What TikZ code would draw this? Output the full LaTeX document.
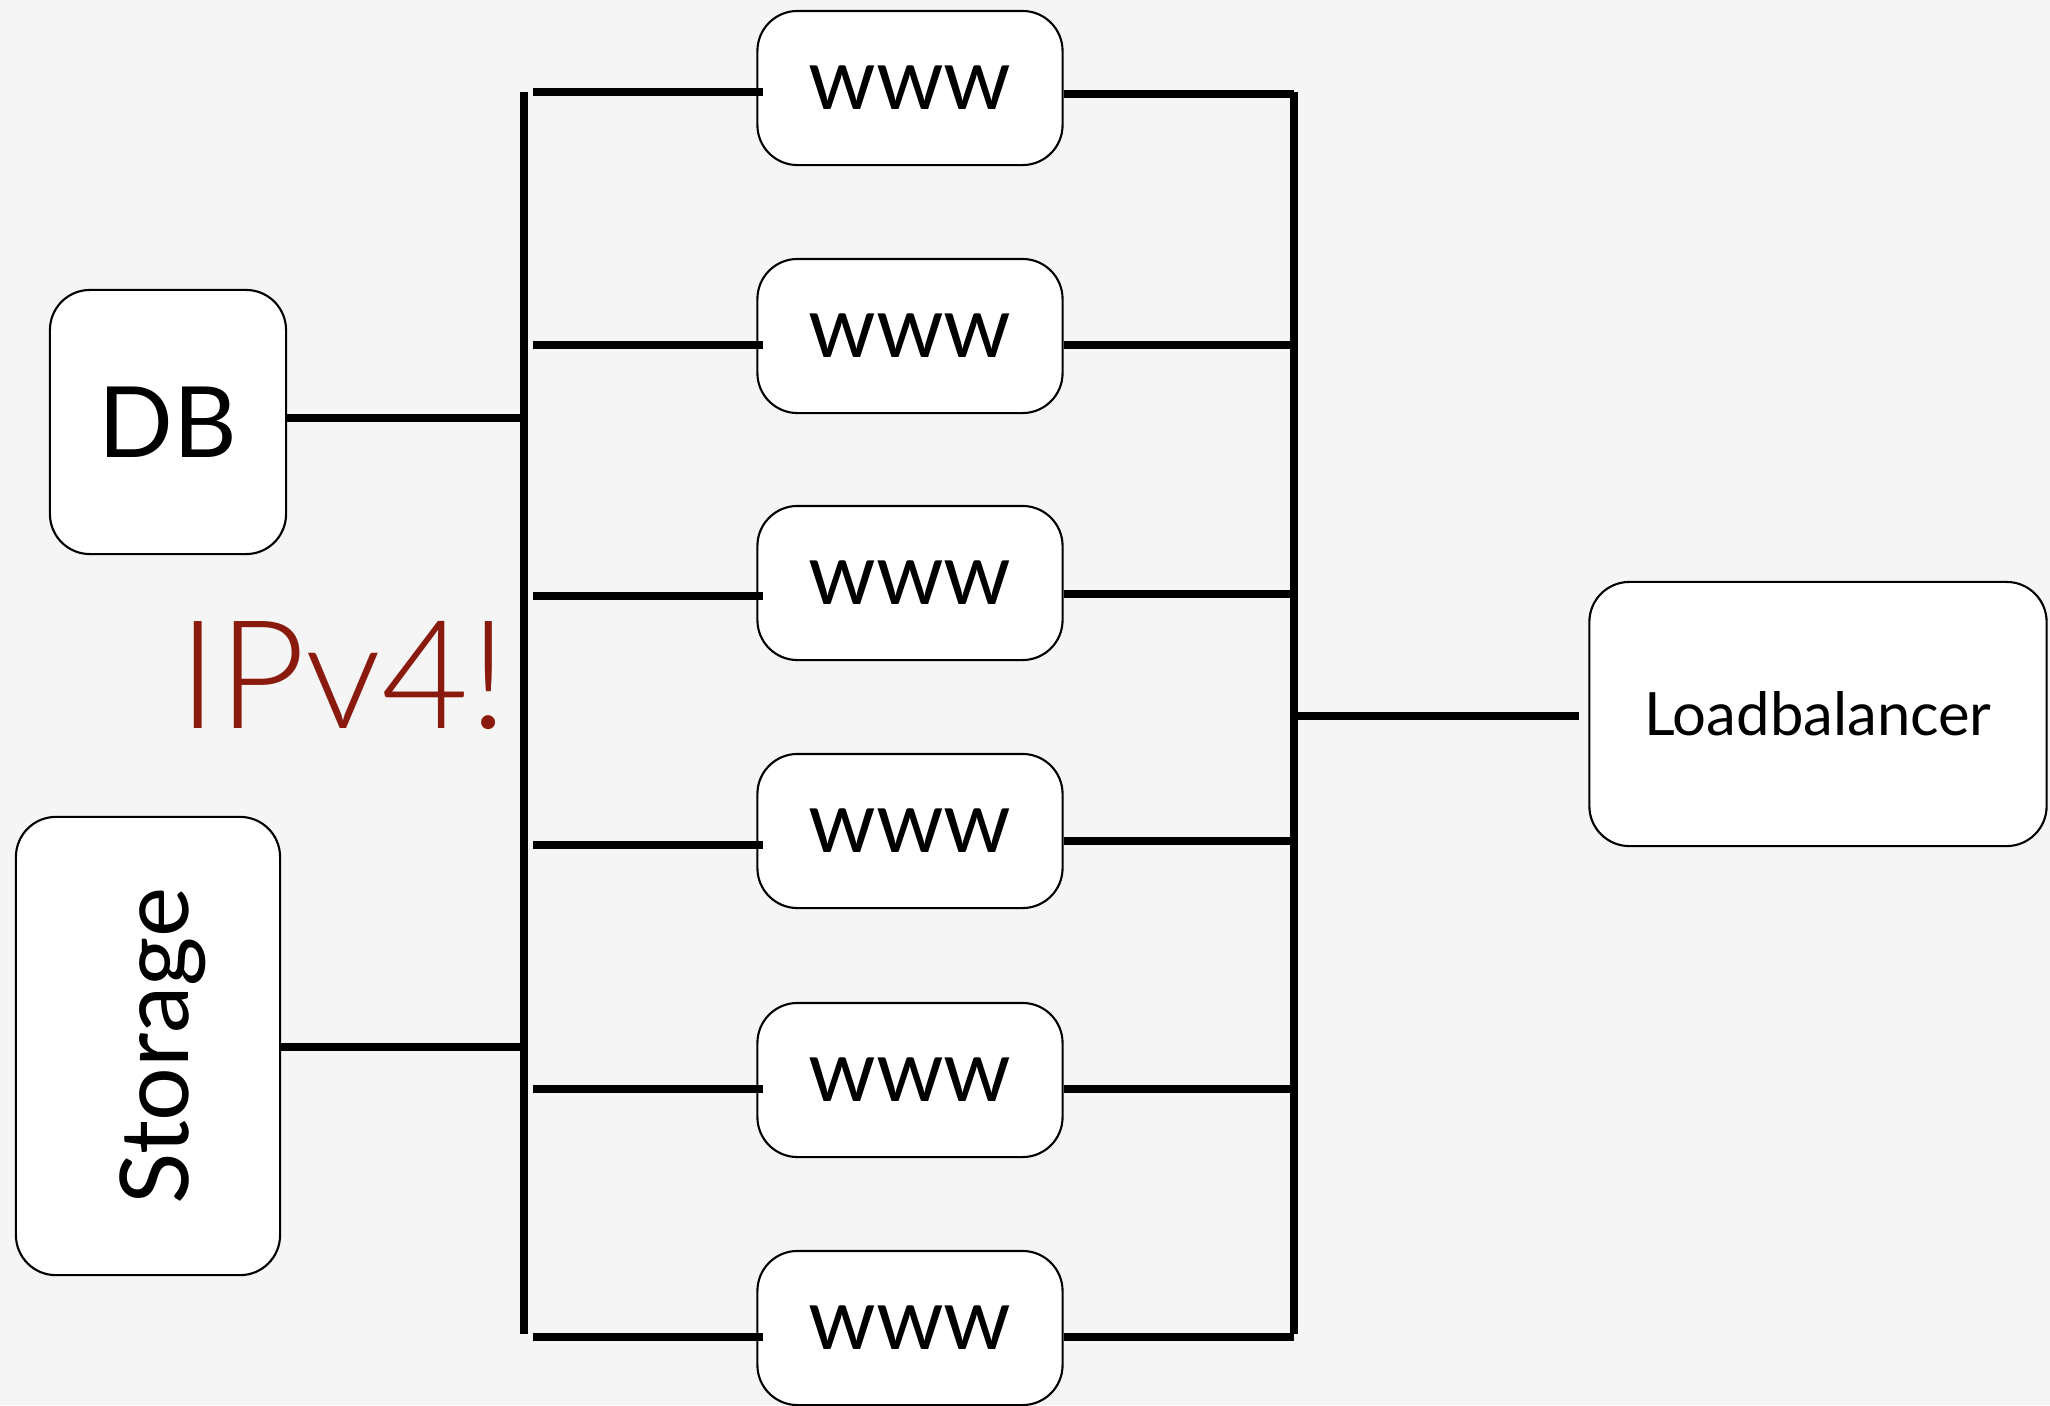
\documentclass[tikz,border=0pt]{standalone}
\usepackage{fontspec}
\setmainfont{Lato}
\newfontfamily\thinfont{Lato Light}
\definecolor{bg}{HTML}{F5F5F5}
\definecolor{ipred}{HTML}{8B1A0E}
\begin{document}
\begin{tikzpicture}[x=0.01cm,y=-0.01cm,
  box/.style={draw, fill=white, rounded corners=0.4cm, line width=0.6pt, inner sep=0pt},
  wire/.style={line width=2.3pt}]
\fill[bg] (0,0) rectangle (2050,1405);
\useasboundingbox (0,0) rectangle (2050,1405);

% the two buses
\coordinate (ltop) at (524,92);
\coordinate (lbot) at (524,1334);
\coordinate (rtop) at (1294,92);
\coordinate (rbot) at (1294,1334);
\draw[wire] (ltop) -- (lbot);
\draw[wire] (rtop) -- (rbot);

% web servers
\foreach \i/\y in {1/88,2/336,3/583,4/831,5/1080,6/1328}
  \node[box, minimum width=3.05cm, minimum height=1.54cm,
        font=\fontsize{24.5}{26}\selectfont] (www\i) at (910,\y) {www};

\foreach \i/\ly/\ry in {1/92/94, 2/345/345, 3/596/594, 4/845/841, 5/1089/1089, 6/1337/1337}{
  \draw[wire] (533,\ly) -- ([xshift=0.07cm]www\i.west |- 0,\ly);
  \draw[wire] (www\i.east |- 0,\ry) -- (rtop |- 0,\ry);
}

% left side
\node[box, minimum width=2.36cm, minimum height=2.64cm,
      font=\fontsize{28}{30}\selectfont] (db) at (168,422) {DB};
\node[box, rotate=90, minimum width=4.58cm, minimum height=2.64cm,
      text height=0.8cm, text depth=0cm,
      font=\fontsize{27}{29}\selectfont] (storage) at (148,1046) {Storage};
\draw[wire] (db.east |- 0,418) -- (528,418);
\draw[wire] (storage.south |- 0,1047) -- (528,1047);

\node[text=ipred, font=\thinfont\fontsize{43}{45}\selectfont] (ipv) at (343,675) {IPv4!};

% load balancer
\node[box, minimum width=4.57cm, minimum height=2.64cm,
      font=\fontsize{17}{19}\selectfont] (lb) at (1818,714) {Loadbalancer};
\draw[wire] (1298,716) -- ([xshift=-0.09cm]lb.west |- 0,716);
\end{tikzpicture}
\end{document}
